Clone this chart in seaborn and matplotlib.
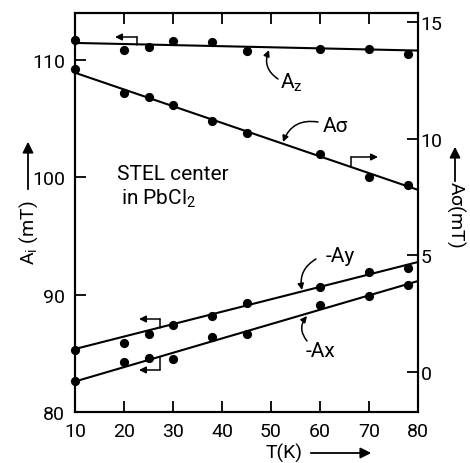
import matplotlib
matplotlib.use("Agg")
import matplotlib.pyplot as plt
import seaborn as sns
from matplotlib.lines import Line2D

# ---- data ----
T = [10, 20, 25, 30, 38, 45, 60, 70, 78]
A_z = [111.69, 110.83, 111.09, 111.60, 111.52, 110.75, 110.92, 110.92, 110.49]
A_sigma = [13.0, 11.97, 11.80, 11.46, 10.77, 10.26, 9.36, 8.37, 8.03]
minus_A_y = [85.28, 85.85, 86.64, 87.41, 88.18, 89.28, 90.65, 91.93, 92.27]
minus_A_x = [82.64, 84.30, 84.60, 84.51, 86.39, 86.64, 89.11, 89.88, 90.82]

T_fit = [10, 80]
A_z_fit = [111.45, 110.80]
A_sigma_fit = [12.83, 7.81]
minus_A_y_fit = [85.37, 92.78]
minus_A_x_fit = [82.60, 91.16]

x_ticks = [10, 20, 30, 40, 50, 60, 70, 80]
left_ticks = [80, 90, 100, 110]
right_ticks = [0, 5, 10, 15]

# ---- style ----
sns.set_theme(style="ticks")
plt.rcParams['font.family'] = ['Roboto', 'DejaVu Sans']
plt.rcParams['axes.linewidth'] = 1.5
plt.rcParams['text.color'] = 'black'
plt.rcParams['xtick.color'] = 'black'
plt.rcParams['ytick.color'] = 'black'
plt.rcParams['xtick.labelcolor'] = 'black'
plt.rcParams['ytick.labelcolor'] = 'black'

W, H = 470, 464
def fp(x, y):
    return (x / W, 1 - y / H)

fig = plt.figure(figsize=(W / 100, H / 100), dpi=100)
fig.patch.set_facecolor('white')
ax = fig.add_axes([75 / W, 1 - 413 / H, (418 - 75) / W, (413 - 14) / H])
ax2 = ax.twinx()

pt_kw = dict(color='black', s=44, linewidth=0, clip_on=False, zorder=5)
ln_kw = dict(color='black', linewidth=1.5)

sns.lineplot(x=T_fit, y=A_z_fit, ax=ax, **ln_kw)
sns.lineplot(x=T_fit, y=minus_A_y_fit, ax=ax, **ln_kw)
sns.lineplot(x=T_fit, y=minus_A_x_fit, ax=ax, **ln_kw)
sns.scatterplot(x=T, y=A_z, ax=ax, **pt_kw)
sns.scatterplot(x=T, y=minus_A_y, ax=ax, **pt_kw)
sns.scatterplot(x=T, y=minus_A_x, ax=ax, **pt_kw)

sns.lineplot(x=T_fit, y=A_sigma_fit, ax=ax2, **ln_kw)
sns.scatterplot(x=T, y=A_sigma, ax=ax2, **pt_kw)

ax.set_xlim(10, 80)
ax.set_ylim(80, 114.0)
ax2.set_ylim(-1.71, 15.39)
ax.set_xticks(x_ticks)
ax.set_yticks(left_ticks)
ax2.set_yticks(right_ticks)
ax.set_xticklabels([str(v) for v in x_ticks])
ax.set_yticklabels([str(v) for v in left_ticks])
ax2.set_yticklabels([str(v) for v in right_ticks])
ax.set_xlabel('')
ax.set_ylabel('')
ax2.set_ylabel('')

ax.tick_params(axis='both', direction='in', length=8, width=1.3, top=True,
               labelsize=14, pad=7, colors='black')
ax2.tick_params(axis='y', direction='in', length=8, width=1.3,
                labelsize=14, pad=2, colors='black')
for a in (ax, ax2):
    for s in a.spines.values():
        s.set_linewidth(1.5)
        s.set_color('black')

# ---- axis labels with arrows ----
fs = 14
fs2 = 15
fig.text(*fp(29, 233), r'A$_\mathregular{i}$ (mT)', rotation=90, ha='center', va='center', fontsize=fs)
ax.annotate('', xy=fp(28, 140), xytext=fp(28, 193), xycoords='figure fraction',
            textcoords='figure fraction',
            arrowprops=dict(arrowstyle='-|>', color='black', lw=1.3, mutation_scale=16))
fig.text(*fp(456, 214), r'A$\mathregular{\sigma}$(mT)', rotation=-90, ha='center', va='center', fontsize=fs)
ax.annotate('', xy=fp(455, 145), xytext=fp(455, 185), xycoords='figure fraction',
            textcoords='figure fraction',
            arrowprops=dict(arrowstyle='-|>', color='black', lw=1.3, mutation_scale=16))
fig.text(*fp(284, 453), 'T(K)', ha='center', va='center', fontsize=fs)
ax.annotate('', xy=fp(374, 454), xytext=fp(308, 454), xycoords='figure fraction',
            textcoords='figure fraction',
            arrowprops=dict(arrowstyle='-|>', color='black', lw=1.3, mutation_scale=16))

# ---- in-plot text ----
fig.text(*fp(117, 175), 'STEL center', ha='left', va='center', fontsize=fs2)
fig.text(*fp(121, 199), r'in PbCl$_\mathregular{2}$', ha='left', va='center', fontsize=fs2)

# series labels with curved arrows
fig.text(*fp(291, 83), r'A$_\mathregular{z}$', ha='center', va='center', fontsize=fs2)
ax.annotate('', xy=fp(269, 51), xytext=fp(278, 80), xycoords='figure fraction',
            textcoords='figure fraction',
            arrowprops=dict(arrowstyle='-|>', color='black', lw=1.1, mutation_scale=9,
                            connectionstyle='arc3,rad=-0.4', shrinkA=0, shrinkB=0))
fig.text(*fp(335, 126), 'A\u03c3', ha='center', va='center', fontsize=fs2)
ax.annotate('', xy=fp(283, 143), xytext=fp(318, 123), xycoords='figure fraction',
            textcoords='figure fraction',
            arrowprops=dict(arrowstyle='-|>', color='black', lw=1.1, mutation_scale=9,
                            connectionstyle='arc3,rad=0.4', shrinkA=0, shrinkB=0))
fig.text(*fp(340, 256), '-Ay', ha='center', va='center', fontsize=fs2)
ax.annotate('', xy=fp(302, 291), xytext=fp(316, 260), xycoords='figure fraction',
            textcoords='figure fraction',
            arrowprops=dict(arrowstyle='-|>', color='black', lw=1.1, mutation_scale=9,
                            connectionstyle='arc3,rad=0.35', shrinkA=0, shrinkB=0))
fig.text(*fp(320, 352), '-Ax', ha='center', va='center', fontsize=fs2)
ax.annotate('', xy=fp(307, 317), xytext=fp(307, 342), xycoords='figure fraction',
            textcoords='figure fraction',
            arrowprops=dict(arrowstyle='-|>', color='black', lw=1.1, mutation_scale=9,
                            connectionstyle='arc3,rad=-0.4', shrinkA=0, shrinkB=0))

# ---- axis-assignment hook arrows ----
def hook(vx, vy0, vy1, hx_end):
    fig.add_artist(Line2D([vx / W, vx / W], [1 - vy0 / H, 1 - vy1 / H],
                          transform=fig.transFigure, color='black', lw=1.1))
    ax.annotate('', xy=fp(hx_end, vy1), xytext=fp(vx, vy1), xycoords='figure fraction',
                textcoords='figure fraction',
                arrowprops=dict(arrowstyle='-|>', color='black', lw=1.1, mutation_scale=10,
                                shrinkA=0, shrinkB=0))

hook(137, 46, 38, 115)   # A_z -> left axis
hook(351, 167, 158, 378) # A_sigma -> right axis
hook(160, 329, 320, 139) # -A_y -> left axis
hook(160, 358, 371, 139) # -A_x -> left axis

fig.savefig('out.png', dpi=100, facecolor='white')
